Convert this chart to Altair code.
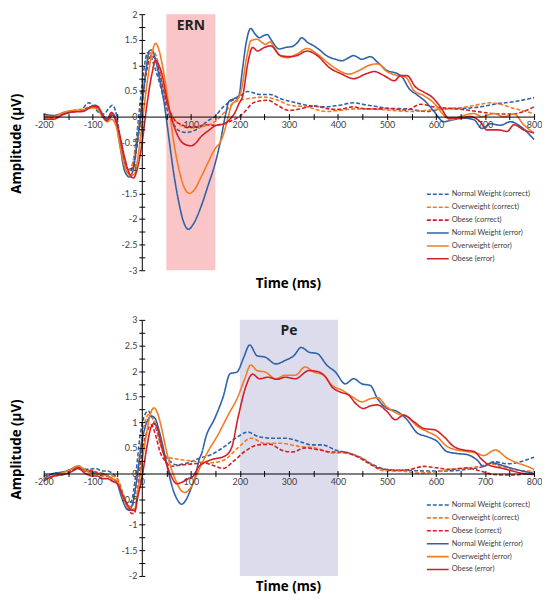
import altair as alt
import pandas as pd

SERIES = ["Normal Weight (correct)", "Overweight (correct)", "Obese (correct)",
          "Normal Weight (error)", "Overweight (error)", "Obese (error)"]
COLORS = ["#2f62a7", "#f47b20", "#d41f26", "#2f62a7", "#f47b20", "#d41f26"]
DASHES = [[4, 2], [4, 2], [4, 2], [1, 0], [1, 0], [1, 0]]
X_TICKS = list(range(-200, 801, 50))

# ---------------- ERN panel (top) ----------------
ern_nw_cor = [(-200,0.05),(-180,0.0),(-160,0.06),(-140,0.1),(-125,0.12),(-108,0.27),(-98,0.2),(-88,0.08),(-78,0.05),(-68,0.15),(-60,0.22),(-52,0.05),(-44,-0.45),(-35,-0.95),(-27,-1.1),(-20,-1.0),(-12,-0.5),(-4,0.2),(4,0.9),(12,1.25),(18,1.2),(25,1.0),(35,0.7),(45,0.35),(55,0.05),(65,-0.15),(75,-0.27),(90,-0.31),(105,-0.28),(120,-0.2),(135,-0.08),(149,0.0),(165,0.18),(178,0.28),(198,0.38),(216,0.49),(241,0.43),(262,0.43),(283,0.35),(310,0.28),(337,0.22),(375,0.19),(402,0.22),(432,0.27),(456,0.23),(483,0.19),(500,0.16),(541,0.15),(582,0.1),(616,0.15),(656,0.16),(690,0.19),(724,0.25),(759,0.29),(800,0.37)]
ern_ow_cor = [(-200,0.05),(-180,0.02),(-160,0.08),(-140,0.12),(-120,0.15),(-100,0.2),(-90,0.15),(-80,0.0),(-70,-0.05),(-62,0.05),(-52,-0.15),(-44,-0.6),(-35,-0.95),(-27,-1.05),(-20,-0.95),(-10,-0.45),(0,0.3),(10,1.0),(20,1.25),(26,1.25),(32,1.1),(40,0.75),(50,0.3),(60,0.0),(70,-0.1),(80,-0.17),(95,-0.22),(110,-0.22),(130,-0.18),(149,-0.1),(169,0.09),(189,0.28),(216,0.35),(250,0.38),(277,0.32),(303,0.22),(337,0.19),(375,0.1),(402,0.12),(436,0.15),(461,0.15),(500,0.13),(548,0.1),(589,0.13),(629,0.16),(663,0.19),(690,0.24),(711,0.27),(731,0.24),(759,0.16),(779,0.11),(800,0.06)]
ern_ob_cor = [(-200,0.0),(-180,-0.02),(-160,0.05),(-140,0.1),(-120,0.12),(-100,0.2),(-90,0.18),(-80,0.0),(-70,-0.08),(-62,0.05),(-52,-0.1),(-44,-0.5),(-35,-0.9),(-25,-1.05),(-18,-1.0),(-10,-0.6),(0,0.2),(10,0.9),(20,1.2),(25,1.15),(32,1.0),(40,0.7),(50,0.3),(60,0.05),(70,-0.1),(80,-0.15),(95,-0.2),(110,-0.2),(130,-0.16),(149,-0.17),(178,-0.1),(203,0.03),(230,0.28),(257,0.32),(277,0.22),(300,0.12),(323,0.15),(351,0.21),(382,0.15),(402,0.14),(429,0.19),(456,0.15),(483,0.15),(500,0.16),(541,0.13),(568,0.24),(596,0.19),(629,0.16),(663,0.13),(697,0.08),(731,0.05),(759,0.05),(779,0.1),(800,0.19)]
ern_nw_err = [(-200,0.05),(-180,0.02),(-160,0.06),(-140,0.1),(-120,0.12),(-105,0.18),(-95,0.22),(-85,0.12),(-75,-0.02),(-68,-0.06),(-60,0.03),(-52,-0.1),(-45,-0.5),(-38,-0.95),(-30,-1.15),(-25,-1.18),(-18,-1.05),(-10,-0.55),(0,0.2),(8,0.85),(15,1.28),(20,1.3),(27,1.15),(35,0.8),(45,0.3),(55,-0.4),(65,-1.1),(75,-1.65),(85,-2.05),(95,-2.2),(105,-2.1),(120,-1.78),(135,-1.35),(150,-0.9),(160,-0.5),(170,0.0),(178,0.3),(188,0.35),(198,0.41),(205,0.9),(213,1.45),(222,1.72),(232,1.6),(240,1.54),(248,1.58),(256,1.6),(265,1.48),(280,1.32),(293,1.35),(307,1.37),(318,1.45),(326,1.54),(338,1.45),(351,1.38),(363,1.3),(375,1.2),(385,1.15),(395,1.12),(408,1.09),(420,1.14),(432,1.19),(449,1.12),(466,1.17),(481,1.06),(500,0.9),(521,0.84),(531,0.77),(545,0.55),(562,0.42),(579,0.29),(596,0.1),(616,-0.1),(636,-0.06),(656,-0.03),(677,-0.06),(694,-0.23),(711,-0.14),(731,-0.17),(752,-0.1),(772,-0.19),(800,-0.45)]
ern_ow_err = [(-200,0.0),(-180,0.0),(-160,0.08),(-140,0.12),(-120,0.13),(-100,0.17),(-90,0.15),(-80,0.0),(-70,-0.1),(-62,-0.05),(-52,-0.2),(-42,-0.7),(-32,-1.05),(-22,-1.15),(-15,-1.12),(-8,-0.8),(0,-0.2),(10,0.6),(20,1.2),(28,1.43),(35,1.3),(42,1.0),(50,0.55),(58,0.0),(66,-0.55),(75,-1.0),(85,-1.35),(97,-1.5),(108,-1.42),(120,-1.2),(135,-0.9),(150,-0.62),(160,-0.5),(168,-0.3),(175,-0.05),(182,0.2),(190,0.3),(198,0.38),(205,0.6),(211,1.0),(217,1.3),(222,1.48),(235,1.51),(245,1.45),(252,1.41),(262,1.46),(270,1.35),(282,1.19),(296,1.15),(316,1.22),(337,1.33),(358,1.22),(382,1.03),(402,0.9),(422,0.83),(443,0.9),(463,1.0),(481,1.03),(500,0.88),(521,0.8),(538,0.77),(555,0.51),(575,0.41),(596,0.26),(616,0.03),(629,-0.06),(649,0.0),(677,0.06),(694,0.0),(718,0.06),(738,0.0),(759,0.05),(779,-0.16),(800,-0.32)]
ern_ob_err = [(-200,-0.05),(-180,-0.05),(-160,0.04),(-140,0.09),(-120,0.1),(-100,0.2),(-90,0.2),(-80,0.02),(-72,-0.08),(-62,0.08),(-55,0.0),(-45,-0.35),(-35,-0.8),(-25,-1.12),(-17,-1.2),(-10,-1.05),(0,-0.55),(10,0.2),(20,0.8),(28,1.1),(35,1.0),(42,0.8),(50,0.4),(60,0.0),(70,-0.3),(80,-0.48),(90,-0.55),(100,-0.57),(110,-0.52),(120,-0.4),(135,-0.28),(152,-0.17),(169,-0.14),(180,-0.05),(189,0.06),(198,0.25),(206,0.41),(216,1.03),(226,1.35),(236,1.28),(250,1.35),(263,1.38),(283,1.19),(303,1.17),(316,1.19),(337,1.28),(358,1.19),(382,0.96),(408,0.83),(432,0.74),(456,0.83),(474,0.88),(494,0.8),(515,0.7),(528,0.8),(541,0.8),(558,0.58),(575,0.48),(592,0.38),(609,0.19),(626,-0.03),(646,-0.03),(670,0.0),(690,-0.1),(704,-0.26),(727,-0.26),(745,-0.29),(759,-0.16),(779,-0.26),(800,-0.32)]

# ---------------- Pe panel (bottom) ----------------
pe_nw_cor = [(-200,-0.05),(-180,0.0),(-160,0.03),(-140,0.08),(-128,0.1),(-110,0.08),(-95,0.1),(-80,0.05),(-70,0.05),(-60,0.0),(-50,-0.1),(-40,-0.35),(-30,-0.58),(-22,-0.55),(-12,0.0),(-4,0.7),(5,1.12),(13,1.22),(20,1.12),(30,0.85),(40,0.52),(50,0.32),(60,0.22),(71,0.17),(91,0.2),(118,0.3),(142,0.37),(169,0.53),(196,0.72),(216,0.81),(238,0.72),(266,0.69),(293,0.69),(320,0.63),(347,0.56),(368,0.56),(395,0.46),(422,0.4),(449,0.3),(470,0.18),(500,0.08),(541,0.06),(582,0.05),(622,0.05),(663,0.08),(697,0.14),(718,0.23),(745,0.19),(772,0.23),(800,0.32)]
pe_ow_cor = [(-200,-0.1),(-180,-0.05),(-160,0.02),(-145,0.08),(-130,0.15),(-115,0.08),(-100,0.05),(-80,0.0),(-60,-0.05),(-50,-0.1),(-40,-0.35),(-30,-0.6),(-20,-0.65),(-12,-0.3),(-4,0.4),(5,0.95),(14,1.15),(20,1.12),(30,0.9),(40,0.5),(50,0.32),(60,0.3),(78,0.27),(105,0.24),(120,0.22),(142,0.21),(169,0.27),(196,0.5),(223,0.69),(250,0.59),(284,0.59),(320,0.53),(354,0.5),(388,0.4),(415,0.4),(449,0.3),(470,0.16),(494,0.05),(528,0.05),(562,0.01),(596,0.03),(629,0.08),(663,0.11),(690,0.14),(711,0.19),(731,0.14),(759,0.08),(786,0.05),(800,0.05)]
pe_ob_cor = [(-200,-0.1),(-180,-0.05),(-160,-0.02),(-145,0.03),(-130,0.1),(-115,0.05),(-100,0.05),(-80,-0.05),(-70,-0.05),(-60,-0.15),(-50,-0.15),(-40,-0.4),(-30,-0.65),(-20,-0.78),(-15,-0.78),(-8,-0.3),(0,0.4),(10,0.8),(20,0.95),(28,0.75),(38,0.4),(50,0.22),(58,0.14),(70,0.15),(84,0.17),(105,0.19),(130,0.2),(142,0.17),(166,0.1),(187,0.24),(210,0.43),(238,0.56),(262,0.57),(284,0.46),(307,0.42),(333,0.5),(362,0.46),(388,0.42),(408,0.42),(436,0.34),(463,0.2),(487,0.09),(521,0.06),(548,0.08),(575,0.14),(602,0.11),(629,0.08),(663,0.11),(690,0.05),(718,-0.02),(745,-0.03),(772,-0.02),(800,0.03)]
pe_nw_err = [(-200,-0.1),(-180,0.0),(-160,0.03),(-145,0.08),(-130,0.12),(-115,0.06),(-100,0.02),(-90,0.0),(-80,0.0),(-70,-0.05),(-60,-0.1),(-50,-0.2),(-40,-0.5),(-30,-0.7),(-25,-0.72),(-18,-0.55),(-10,-0.1),(0,0.6),(10,1.0),(20,1.12),(27,1.08),(35,0.85),(45,0.45),(55,0.0),(65,-0.35),(73,-0.52),(81,-0.6),(91,-0.5),(100,-0.3),(111,0.01),(116,0.24),(123,0.42),(130,0.69),(149,1.08),(166,1.5),(180,1.95),(194,1.98),(208,2.27),(220,2.51),(235,2.3),(252,2.27),(273,2.14),(293,2.21),(310,2.3),(325,2.46),(341,2.37),(358,2.34),(378,2.11),(395,1.98),(415,1.75),(432,1.85),(449,1.75),(466,1.72),(481,1.46),(500,1.27),(521,1.21),(541,1.05),(562,0.79),(582,0.72),(602,0.63),(622,0.43),(643,0.39),(663,0.37),(683,0.27),(697,0.14),(714,0.21),(731,0.17),(752,0.11),(772,0.06),(800,0.0)]
pe_ow_err = [(-200,-0.1),(-180,-0.05),(-160,0.02),(-145,0.08),(-130,0.15),(-115,0.06),(-100,0.0),(-90,0.0),(-80,-0.02),(-70,-0.05),(-60,-0.1),(-50,-0.15),(-40,-0.4),(-30,-0.65),(-20,-0.7),(-14,-0.68),(-8,-0.35),(0,0.2),(10,0.8),(18,1.18),(25,1.28),(32,1.18),(40,0.9),(50,0.45),(60,0.1),(70,-0.15),(80,-0.33),(88,-0.37),(100,-0.27),(111,-0.05),(120,0.15),(135,0.43),(155,0.75),(176,1.14),(196,1.5),(210,1.85),(222,2.12),(235,2.01),(252,1.98),(273,1.85),(293,1.92),(313,1.92),(333,2.08),(351,1.98),(371,1.92),(388,1.72),(408,1.63),(429,1.5),(449,1.4),(466,1.46),(481,1.48),(500,1.3),(521,1.17),(541,1.11),(562,0.92),(582,0.82),(602,0.72),(622,0.53),(643,0.46),(663,0.43),(683,0.4),(697,0.35),(721,0.46),(745,0.3),(765,0.21),(786,0.14),(800,0.08)]
pe_ob_err = [(-200,-0.15),(-180,-0.05),(-160,-0.02),(-145,0.03),(-130,0.1),(-115,0.0),(-100,-0.05),(-90,-0.05),(-80,-0.1),(-70,-0.1),(-60,-0.15),(-50,-0.2),(-40,-0.4),(-30,-0.6),(-20,-0.72),(-14,-0.72),(-8,-0.45),(0,-0.1),(10,0.5),(18,0.88),(25,0.98),(32,0.88),(40,0.55),(50,0.2),(60,-0.05),(71,-0.2),(82,-0.17),(95,-0.1),(105,-0.05),(115,0.12),(125,0.2),(142,0.27),(169,0.34),(183,0.5),(196,1.08),(213,1.72),(226,1.94),(240,1.85),(257,1.88),(276,1.84),(293,1.88),(313,1.85),(341,2.01),(362,1.98),(375,1.88),(388,1.69),(405,1.59),(422,1.53),(436,1.37),(452,1.27),(466,1.32),(481,1.34),(500,1.21),(517,1.05),(534,1.14),(555,1.01),(575,0.88),(598,0.85),(616,0.72),(636,0.53),(656,0.46),(677,0.43),(694,0.27),(707,0.17),(731,0.11),(752,0.06),(772,0.01),(800,-0.02)]

ERN_WINDOW = [50, 150]
PE_WINDOW = [200, 400]
ERN_YDOMAIN = [-3, 2]
PE_YDOMAIN = [-2, 3]
ERN_LABEL = {"text": "ERN", "t": 100, "v": 1.77}
PE_LABEL = {"text": "Pe", "t": 300, "v": 2.79}

W, H = 494, 258


def frame(series_lists):
    rows = []
    for name, pts in zip(SERIES, series_lists):
        for t, v in pts:
            rows.append({"series": name, "t": t, "v": v})
    return pd.DataFrame(rows)


def panel(df, ydom, window, shade_color, label, title_y, legend_y):
    span = ydom[1] - ydom[0]
    zero_from_bottom = (0 - ydom[0]) / span * H
    xoff = -zero_from_bottom
    yoff = -(0 - (-200)) / 1000 * W
    yticks = [ydom[0] + 0.25 * i for i in range(int(span / 0.25) + 1)]
    xscale = alt.Scale(domain=[-200, 800], nice=False)
    yscale = alt.Scale(domain=ydom, nice=False, zero=False)
    common = dict(labelFont="Lato", labelFontSize=9, labelColor="#404040",
                  domainColor="black", tickColor="black", tickSize=3, grid=False,
                  labelFlush=False, labelOverlap=False, zindex=1)
    x_axis = alt.Axis(values=X_TICKS,
                      labelExpr="datum.value % 100 === 0 ? '' + datum.value : ''",
                      offset=xoff, labelPadding=1,
                      title="Time (ms)", titleX=246, titleY=title_y,
                      titleFont="Open Sans", titleFontSize=13.5, titleFontWeight="bold",
                      titleColor="black", titleBaseline="middle", titleAlign="center",
                      **common)
    y_axis = alt.Axis(values=yticks,
                      labelExpr="abs(datum.value*2 - round(datum.value*2)) < 0.001 ? '' + datum.value : ''",
                      offset=yoff, labelPadding=2,
                      title="Amplitude (μV)", titleX=yoff - 27, titleY=H / 2 + 1,
                      titleAngle=270, titleFont="Open Sans", titleFontSize=13.5,
                      titleFontWeight="bold", titleColor="black",
                      titleBaseline="middle", titleAlign="center",
                      **common)
    x_top = alt.Axis(orient="top", values=X_TICKS, labels=False, domain=False,
                     offset=-(H + xoff), title="", tickColor="black", tickSize=3,
                     grid=False, zindex=1)
    y_right = alt.Axis(orient="right", values=yticks, labels=False, domain=False,
                       offset=-yoff - W, title="", tickColor="black", tickSize=3,
                       grid=False, zindex=1)

    shade_df = pd.DataFrame({"x1": [window[0]], "x2": [window[1]],
                             "y1": [ydom[0]], "y2": [ydom[1]]})
    rect = alt.Chart(shade_df).mark_rect(color=shade_color).encode(
        x=alt.X("x1:Q", scale=xscale, axis=x_top), x2="x2:Q",
        y=alt.Y("y1:Q", scale=yscale, axis=y_right), y2="y2:Q")

    label_df = pd.DataFrame([label])
    txt = alt.Chart(label_df).mark_text(font="Open Sans", fontSize=14, fontWeight="bold",
                                        color="#222222").encode(
        x=alt.X("t:Q", scale=xscale, axis=None),
        y=alt.Y("v:Q", scale=yscale, axis=None),
        text="text:N")

    leg = alt.Legend(orient="none", legendX=385, legendY=legend_y, title=None,
                     symbolType="stroke", symbolSize=484, symbolStrokeWidth=1.6,
                     labelFont="Lato", labelFontSize=7.5, labelColor="#404040",
                     clipHeight=13, rowPadding=0, labelOffset=2, padding=0)
    lines = alt.Chart(df).mark_line(strokeWidth=1.6, interpolate="monotone").encode(
        x=alt.X("t:Q", scale=xscale, axis=x_axis),
        y=alt.Y("v:Q", scale=yscale, axis=y_axis),
        color=alt.Color("series:N", scale=alt.Scale(domain=SERIES, range=COLORS), legend=leg),
        strokeDash=alt.StrokeDash("series:N", scale=alt.Scale(domain=SERIES, range=DASHES), legend=leg),
    )
    return alt.layer(rect, txt, lines).resolve_axis(x="independent", y="independent").properties(
        width=W, height=H)


top = panel(frame([ern_nw_cor, ern_ow_cor, ern_ob_cor, ern_nw_err, ern_ow_err, ern_ob_err]),
            ERN_YDOMAIN, ERN_WINDOW, "#f9c5c6", ERN_LABEL, 168, 175)
bottom = panel(frame([pe_nw_cor, pe_ow_cor, pe_ob_cor, pe_nw_err, pe_ow_err, pe_ob_err]),
               PE_YDOMAIN, PE_WINDOW, "#dcdcec", PE_LABEL, 114, 180)

chart = alt.vconcat(top, bottom, spacing=26).resolve_legend(
    color="independent", strokeDash="independent").resolve_scale(
    color="independent", strokeDash="independent").properties(
    padding={"left": 2, "top": 0, "right": 0, "bottom": 0},
    background="white").configure_view(stroke=None)

chart.save("out.html", embed_options={"renderer": "svg", "actions": False})
